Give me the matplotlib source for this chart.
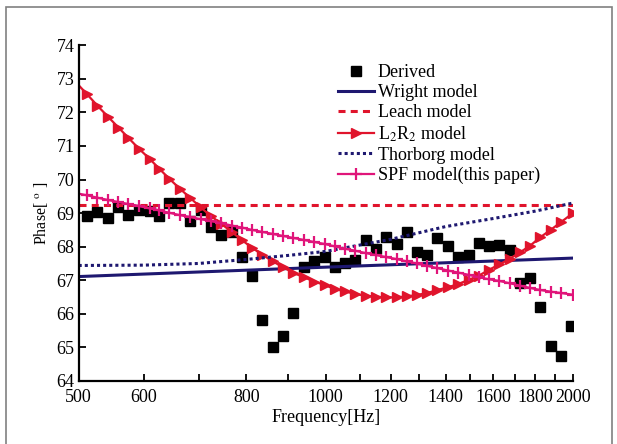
import matplotlib
matplotlib.use('Agg')
import matplotlib.pyplot as plt
from matplotlib.patches import Rectangle
from matplotlib.ticker import FixedLocator, NullLocator, FixedFormatter

plt.rcParams['font.family'] = 'Liberation Serif'
plt.rcParams['mathtext.fontset'] = 'stix'

# frequencies of the derived points (Hz)
freq = [512, 527, 543, 559, 575, 592, 610, 627, 645, 664, 684, 704,
        725, 746, 768, 791, 813, 837, 862, 887, 913, 941, 968, 997,
        1025, 1055, 1086, 1118, 1151, 1185, 1220, 1256, 1291, 1329, 1368, 1409,
        1450, 1493, 1537, 1580, 1627, 1675, 1724, 1774, 1825, 1879, 1934, 1991]

derived = [68.91, 69.03, 68.86, 69.18, 68.93, 69.08, 69.06, 68.90, 69.31, 69.31, 68.76, 69.08,
           68.58, 68.36, 68.45, 67.70, 67.13, 65.83, 65.00, 65.35, 66.02, 67.38, 67.56, 67.70,
           67.38, 67.50, 67.59, 68.20, 67.93, 68.30, 68.08, 68.43, 67.83, 67.76, 68.26, 68.01,
           67.70, 67.76, 68.12, 68.02, 68.05, 67.90, 66.91, 67.07, 66.21, 65.03, 64.74, 65.63]

# model curves: start at 500 Hz, then the same frequencies, end at 2000 Hz
model_freq = [500] + freq[:-1] + [2000]

l2r2 = [72.81, 72.54, 72.20, 71.87, 71.55, 71.24, 70.92, 70.62, 70.32, 70.02, 69.73, 69.45, 69.17,
        68.91, 68.68, 68.44, 68.19, 67.97, 67.76, 67.56, 67.39, 67.22, 67.09, 66.96, 66.86,
        66.74, 66.67, 66.59, 66.54, 66.51, 66.49, 66.49, 66.52, 66.56, 66.62, 66.71,
        66.79, 66.89, 67.01, 67.14, 67.31, 67.47, 67.64, 67.83, 68.03, 68.28, 68.50, 68.73, 69.00]

spf = [69.58, 69.53, 69.46, 69.39, 69.33, 69.27, 69.21, 69.14, 69.08, 69.01, 68.94, 68.88, 68.82,
       68.76, 68.70, 68.63, 68.57, 68.50, 68.44, 68.38, 68.32, 68.26, 68.20, 68.14, 68.08,
       68.01, 67.94, 67.88, 67.81, 67.75, 67.69, 67.63, 67.56, 67.50, 67.43, 67.36,
       67.29, 67.23, 67.16, 67.09, 67.03, 66.98, 66.91, 66.84, 66.77, 66.71, 66.66, 66.62, 66.57]

wright_f = [500, 1000, 2000]
wright = [67.11, 67.39, 67.66]

leach_f = [500, 2000]
leach = [69.25, 69.25]

thorborg_f = [500, 600, 700, 800, 900, 1000, 1200, 1400, 1600, 1800, 2000]
thorborg = [67.44, 67.45, 67.50, 67.62, 67.74, 67.86, 68.22, 68.60, 68.84, 69.06, 69.30]

xticks = [500, 600, 700, 800, 900, 1000, 1100, 1200, 1300, 1400, 1500, 1600, 1700, 1800, 1900, 2000]
xlabels = ['500', '600', '', '800', '', '1000', '', '1200', '', '1400', '', '1600', '', '1800', '', '2000']

navy = '#1e1870'
red = '#e0142c'
pink = '#e0157a'

fig = plt.figure(figsize=(6.17, 4.44), dpi=100)
ax = fig.add_axes([0.1275, 0.142, 0.801, 0.756])

ax.plot(freq, derived, 's', color='black', markersize=6.5, label='Derived')
ax.plot(wright_f, wright, '-', color=navy, lw=2.2, label='Wright model')
ax.plot(leach_f, leach, color=red, lw=2.2, dashes=(2.3, 1.7), label='Leach model')
ax.plot(model_freq, l2r2, '-', color=red, lw=1.6, marker='>', markersize=7.5,
        markevery=slice(1, None), markerfacecolor=red, markeredgecolor=red,
        label='L$_2$R$_2$ model')
ax.plot(thorborg_f, thorborg, color=navy, lw=2.2, dashes=(1, 1), label='Thorborg model')
ax.plot(model_freq, spf, '-', color=pink, lw=1.6, marker='+', markersize=8, mew=1.6,
        markevery=slice(1, None), label='SPF model(this paper)')

ax.set_xscale('log')
ax.set_xlim(500, 2000)
ax.set_ylim(64, 74)
ax.xaxis.set_major_locator(FixedLocator(xticks))
ax.xaxis.set_major_formatter(FixedFormatter(xlabels))
ax.xaxis.set_minor_locator(NullLocator())
ax.set_yticks(range(64, 75))

for s in ['top', 'right']:
    ax.spines[s].set_visible(False)
for s in ['left', 'bottom']:
    ax.spines[s].set_linewidth(1.6)
ax.tick_params(direction='in', length=5, width=1.3, labelsize=13)
ax.tick_params(axis='x', pad=6)
ax.tick_params(axis='y', pad=3)

ax.set_xlabel('Frequency[Hz]', fontsize=13, labelpad=2)
ax.set_ylabel('Phase[ $^{\\rm o}$ ]', fontsize=11.5, labelpad=5)

ax.legend(loc='upper left', bbox_to_anchor=(329 / 617, 1 - 55 / 444),
          bbox_transform=fig.transFigure, frameon=False, fontsize=13,
          handlelength=2.0, handletextpad=0.2, labelspacing=0.17, borderpad=0)

# grey frame around the figure
fig.patches.append(Rectangle((6 / 617, -0.1), 606 / 617, 1.1 - 7 / 444,
                             transform=fig.transFigure, fill=False,
                             edgecolor='#808080', lw=1.2))

fig.savefig('out.png', dpi=100)
